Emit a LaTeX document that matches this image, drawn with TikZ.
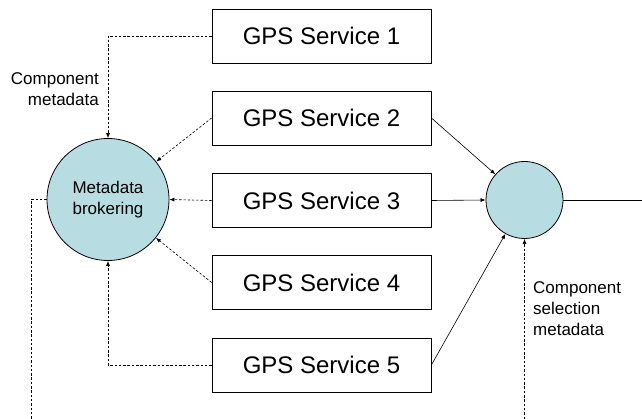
\documentclass[tikz,border=0pt]{standalone}
\usepackage{fontspec}
\setmainfont{Liberation Sans}
\usetikzlibrary{arrows.meta}
\definecolor{circfill}{HTML}{B7DDE3}
\begin{document}
\begin{tikzpicture}[x=1pt,y=-1pt,
  svc/.style={draw=black, line width=0.8pt, minimum width=219pt, minimum height=54pt, inner sep=0pt, font=\fontsize{24}{28}\selectfont},
  circ/.style={draw=black, line width=0.8pt, circle, fill=circfill, inner sep=0pt},
  dsh/.style={line width=0.6pt, dash pattern=on 2.5pt off 1.8pt},
  sol/.style={line width=0.6pt},
  tip/.style={-{Latex[length=5pt,width=4pt]}},
  lbl/.style={font=\fontsize{17}{21}\selectfont, inner sep=0pt}
]
\useasboundingbox (0,0) rectangle (642,419);
\node[svc] (s1) at (321.5,36) {GPS Service 1};
\node[svc] (s2) at (321.5,118) {GPS Service 2};
\node[svc] (s3) at (321.5,200.5) {GPS Service 3};
\node[svc] (s4) at (321.5,282.5) {GPS Service 4};
\node[svc] (s5) at (321.5,365) {GPS Service 5};
\node[circ, minimum size=122pt, font=\fontsize{17}{21}\selectfont, align=center] (mb) at (108,199.5) {Metadata\\brokering};
\node[circ, minimum size=77pt] (sel) at (524.5,200) {};
\coordinate (outR) at (642,200);
\coordinate (bl) at (31,419);
\coordinate (br) at (524.5,419);
\node[lbl, align=right, anchor=east] (cm) at (99,89) {Component\\metadata};
\node[lbl, align=left, anchor=west] (csm) at (533,309) {Component\\selection\\metadata};

\draw[dsh, tip] (s1.west) -| (mb.north);
\draw[dsh, tip] (s2.west) -- (mb);
\draw[dsh, tip] (s3.west) -- (mb.east);
\draw[dsh, tip] (s4.west) -- (mb);
\draw[dsh, tip] (s5.west) -| (mb.south);
\draw[dsh] (mb.west) -| (bl);
\draw[dsh, tip] (br) -- (sel.south);
\draw[sol, tip] (s2.east) -- (sel);
\draw[sol, tip] (s3.east) -- (sel.west);
\draw[sol, tip] (s5.east) -- (sel);
\draw[sol] (sel.east) -- (outR);
\end{tikzpicture}
\end{document}
